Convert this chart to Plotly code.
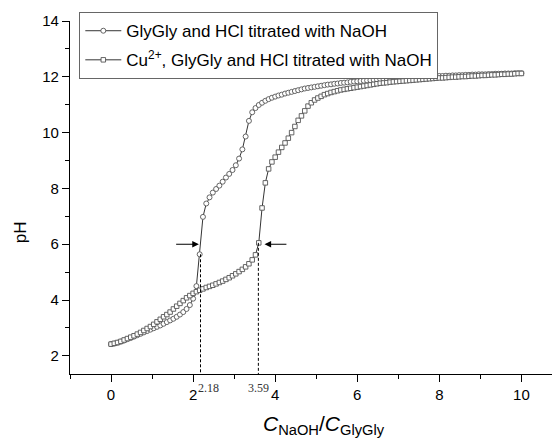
import plotly.graph_objects as go

# Titrant ratio C_NaOH / C_GlyGly (shared by both curves)
ratio = [0.00, 0.08, 0.16, 0.24, 0.32, 0.40, 0.48, 0.56, 0.64, 0.72,
         0.80, 0.88, 0.96, 1.04, 1.12, 1.20, 1.28, 1.36, 1.44, 1.52,
         1.60, 1.68, 1.76, 1.84, 1.92, 2.00, 2.08, 2.16, 2.24, 2.32,
         2.40, 2.48, 2.56, 2.64, 2.72, 2.80, 2.88, 2.96, 3.04, 3.12,
         3.20, 3.28, 3.36, 3.44, 3.52, 3.60, 3.68, 3.76, 3.84, 3.92,
         4.00, 4.08, 4.16, 4.24, 4.32, 4.40, 4.48, 4.56, 4.64, 4.72,
         4.80, 4.88, 4.96, 5.04, 5.12, 5.20, 5.28, 5.36, 5.44, 5.52,
         5.60, 5.68, 5.76, 5.84, 5.92, 6.00, 6.08, 6.16, 6.24, 6.32,
         6.40, 6.48, 6.56, 6.64, 6.72, 6.80, 6.88, 6.96, 7.04, 7.12,
         7.20, 7.28, 7.36, 7.44, 7.52, 7.60, 7.68, 7.76, 7.84, 7.92,
         8.00, 8.08, 8.16, 8.24, 8.32, 8.40, 8.48, 8.56, 8.64, 8.72,
         8.80, 8.88, 8.96, 9.04, 9.12, 9.20, 9.28, 9.36, 9.44, 9.52,
         9.60, 9.68, 9.76, 9.84, 9.92, 10.00]

# pH: GlyGly and HCl titrated with NaOH (circles)
ph_glygly = [2.42, 2.44, 2.47, 2.51, 2.55, 2.60, 2.64, 2.69, 2.74, 2.79,
             2.84, 2.89, 2.94, 2.99, 3.04, 3.09, 3.15, 3.21, 3.27, 3.33,
             3.40, 3.48, 3.57, 3.68, 3.82, 4.05, 4.50, 5.64, 6.98, 7.46,
             7.68, 7.85, 7.98, 8.10, 8.24, 8.39, 8.52, 8.66, 8.83, 9.07,
             9.40, 9.86, 10.42, 10.73, 10.88, 10.99, 11.07, 11.14, 11.20, 11.25,
             11.29, 11.33, 11.36, 11.40, 11.43, 11.46, 11.49, 11.52, 11.55, 11.58,
             11.60, 11.62, 11.64, 11.66, 11.68, 11.70, 11.72, 11.73, 11.75, 11.76,
             11.78, 11.79, 11.80, 11.82, 11.83, 11.84, 11.85, 11.86, 11.87, 11.88,
             11.89, 11.90, 11.91, 11.92, 11.93, 11.93, 11.94, 11.95, 11.96, 11.96,
             11.97, 11.98, 11.98, 11.99, 12.00, 12.00, 12.01, 12.01, 12.02, 12.02,
             12.03, 12.03, 12.04, 12.04, 12.05, 12.05, 12.06, 12.06, 12.07, 12.07,
             12.08, 12.08, 12.09, 12.09, 12.09, 12.10, 12.10, 12.11, 12.11, 12.11,
             12.12, 12.12, 12.12, 12.13, 12.13, 12.13]

# pH: Cu2+, GlyGly and HCl titrated with NaOH (squares)
ph_cu = [2.42, 2.45, 2.48, 2.52, 2.57, 2.62, 2.67, 2.72, 2.78, 2.84,
         2.91, 2.98, 3.05, 3.13, 3.22, 3.31, 3.40, 3.48, 3.57, 3.68,
         3.78, 3.88, 3.98, 4.08, 4.16, 4.24, 4.30, 4.35, 4.40, 4.45,
         4.49, 4.53, 4.58, 4.63, 4.68, 4.74, 4.80, 4.87, 4.94, 5.02,
         5.10, 5.19, 5.30, 5.44, 5.62, 6.05, 7.30, 8.20, 8.70, 8.95,
         9.12, 9.30, 9.47, 9.63, 9.80, 10.00, 10.22, 10.44, 10.60, 10.78,
         10.95, 11.07, 11.17, 11.24, 11.30, 11.36, 11.40, 11.44, 11.47, 11.50,
         11.53, 11.55, 11.57, 11.59, 11.61, 11.63, 11.65, 11.67, 11.69, 11.71,
         11.73, 11.75, 11.77, 11.78, 11.79, 11.81, 11.82, 11.83, 11.84, 11.85,
         11.86, 11.87, 11.88, 11.89, 11.90, 11.91, 11.92, 11.93, 11.94, 11.95,
         11.96, 11.96, 11.97, 11.98, 11.99, 11.99, 12.00, 12.01, 12.01, 12.02,
         12.03, 12.03, 12.04, 12.05, 12.05, 12.06, 12.07, 12.07, 12.08, 12.09,
         12.09, 12.10, 12.10, 12.11, 12.12, 12.12]

# Equivalence points marked on the chart
equiv_ratio = [2.18, 3.59]
equiv_ph = [5.64, 6.05]
equiv_labels = ["2.18", "3.59"]
arrow_ph = 6.0

series_names = ["GlyGly and HCl titrated with NaOH",
                "Cu<sup>2+</sup>, GlyGly and HCl titrated with NaOH"]

X_RANGE = [-1, 10.94]
Y_RANGE = [1.35, 14]
SANS = "Liberation Sans, Arial, sans-serif"
SERIF = "Liberation Serif, Times New Roman, serif"

fig = go.Figure()
fig.add_trace(go.Scatter(
    x=ratio, y=ph_glygly, mode="lines+markers", name=series_names[0],
    legendgroup="a",
    line=dict(color="black", width=0.8),
    marker=dict(symbol="circle", size=5, color="white",
                line=dict(color="#555555", width=0.9)),
))
fig.add_trace(go.Scatter(
    x=ratio, y=ph_cu, mode="lines+markers", name=series_names[1],
    legendgroup="b",
    line=dict(color="black", width=0.8),
    marker=dict(symbol="square", size=4.5, color="white",
                line=dict(color="#555555", width=0.9)),
))

# dashed drop lines from equivalence points
for xv, yv in zip(equiv_ratio, equiv_ph):
    fig.add_shape(type="line", x0=xv, x1=xv, y0=yv, y1=Y_RANGE[0],
                  xref="x", yref="y",
                  line=dict(color="black", width=1, dash="3px,2px"))

# labels of equivalence points
label_shift = [0.2, 0.0]
for xv, lab, sh in zip(equiv_ratio, equiv_labels, label_shift):
    fig.add_annotation(x=xv + sh, y=Y_RANGE[0], xref="x", yref="y",
                       text=lab, showarrow=False, yanchor="top", yshift=-5,
                       font=dict(family=SERIF, size=12, color="#333333"))

# horizontal arrows pointing at the equivalence points
fig.add_annotation(x=equiv_ratio[0] - 0.04, y=arrow_ph, ax=equiv_ratio[0] - 0.63,
                   ay=arrow_ph, xref="x", yref="y", axref="x", ayref="y",
                   text="", showarrow=True, arrowhead=2, arrowsize=1.1,
                   arrowwidth=1.2, arrowcolor="black")
fig.add_annotation(x=equiv_ratio[1] + 0.15, y=arrow_ph, ax=equiv_ratio[1] + 0.72,
                   ay=arrow_ph, xref="x", yref="y", axref="x", ayref="y",
                   text="", showarrow=True, arrowhead=2, arrowsize=1.1,
                   arrowwidth=1.2, arrowcolor="black")

# axis titles
fig.add_annotation(x=0.519, y=-0.145, xref="paper", yref="paper",
                   text="<i>C</i><sub>NaOH</sub>/<i>C</i><sub>GlyGly</sub>",
                   showarrow=False, xanchor="center", yanchor="middle",
                   font=dict(family=SANS, size=21, color="black"))
fig.add_annotation(x=-0.101, y=0.40, xref="paper", yref="paper",
                   text="pH", textangle=-90, showarrow=False,
                   xanchor="center", yanchor="middle",
                   font=dict(family=SANS, size=17, color="black"))

axis_common = dict(showline=True, linecolor="black", linewidth=1.3,
                   showgrid=False, zeroline=False, ticks="outside",
                   ticklen=7, tickwidth=1.2, tickcolor="black",
                   tickfont=dict(family=SANS, size=15, color="black"))

fig.update_xaxes(range=X_RANGE, tick0=0, dtick=2,
                 minor=dict(dtick=1, tick0=0, ticks="outside", ticklen=4,
                            tickwidth=1.2, tickcolor="black"),
                 **axis_common)
fig.update_yaxes(range=Y_RANGE, tick0=0, dtick=2,
                 minor=dict(dtick=1, tick0=0, ticks="outside", ticklen=4,
                            tickwidth=1.2, tickcolor="black"),
                 **axis_common)

# page body adds an 8px offset, so the figure is 8px smaller than the window
fig.update_layout(
    width=552, height=436,
    margin=dict(l=62, r=0, t=13, b=70),
    paper_bgcolor="white", plot_bgcolor="white",
    showlegend=True,
    legend=dict(x=0.019, y=1.025, xanchor="left", yanchor="top",
                bordercolor="#666666", borderwidth=1, bgcolor="white",
                traceorder="grouped", tracegroupgap=4, itemwidth=36,
                font=dict(family=SANS, size=17, color="black")),
)

fig.write_html("out.html")
